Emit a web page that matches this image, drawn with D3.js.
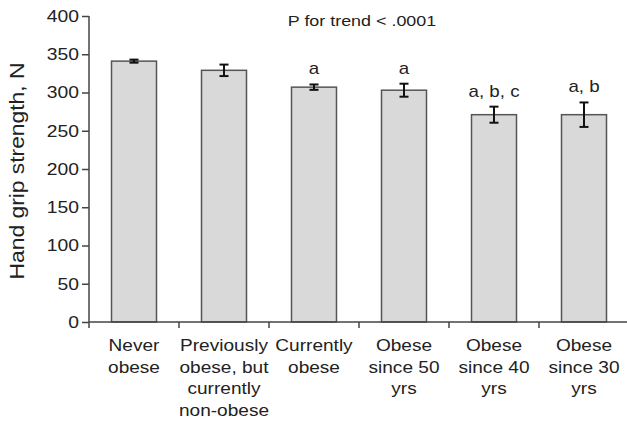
<!DOCTYPE html>
<html>
<head>
    <script src="https://d3js.org/d3.v7.min.js"></script>
    <style>
        body { margin: 0; background: #fff; }
        text { font-family: "Liberation Sans", Arial, sans-serif; }
    </style>
</head>
<body>
    <svg id="chart" width="627" height="421"></svg>
    <script>
        // data
        var groups = [
            ["Never", "obese"],
            ["Previously", "obese, but", "currently", "non-obese"],
            ["Currently", "obese"],
            ["Obese", "since 50", "yrs"],
            ["Obese", "since 40", "yrs"],
            ["Obese", "since 30", "yrs"]
        ];
        var means = [341, 329, 307, 303, 271, 271];
        var errors = [2, 7.5, 3.5, 8.5, 10.5, 16];
        var marks = ["", "", "a", "a", "a, b, c", "a, b"];
        var yTicks = [0, 50, 100, 150, 200, 250, 300, 350, 400];

        var svg = d3.select("#chart");
        var marginLeft = 89, marginTop = 16, plotW = 540, plotH = 306;
        var sx = 1.17; // the original lettering is a bit wide

        var g = svg.append("g").attr("transform", "translate(" + marginLeft + "," + marginTop + ")");

        var x = d3.scaleBand().domain(d3.range(groups.length)).range([0, plotW]).paddingInner(0.5).paddingOuter(0.25);
        var y = d3.scaleLinear().domain([0, 400]).range([plotH, 0]);
        function cx(i) { return x(i) + x.bandwidth() / 2; }

        // bars
        g.selectAll("rect.bar")
            .data(means)
            .enter()
            .append("rect")
            .attr("class", "bar")
            .attr("x", function(d, i) { return x(i); })
            .attr("y", function(d) { return y(d); })
            .attr("width", x.bandwidth())
            .attr("height", function(d) { return plotH - y(d); })
            .style("fill", "#d9d9d9")
            .style("stroke", "#555")
            .style("stroke-width", 1.5);

        // error bars
        var cap = 4.5;
        var eb = g.selectAll("g.err").data(means).enter().append("g").attr("class", "err")
            .style("stroke", "#111").style("stroke-width", 2);
        eb.append("line")
            .attr("x1", function(d, i) { return cx(i); })
            .attr("x2", function(d, i) { return cx(i); })
            .attr("y1", function(d, i) { return y(d + errors[i]); })
            .attr("y2", function(d, i) { return y(d - errors[i]); });
        eb.append("line")
            .attr("x1", function(d, i) { return cx(i) - cap; })
            .attr("x2", function(d, i) { return cx(i) + cap; })
            .attr("y1", function(d, i) { return y(d + errors[i]); })
            .attr("y2", function(d, i) { return y(d + errors[i]); });
        eb.append("line")
            .attr("x1", function(d, i) { return cx(i) - cap; })
            .attr("x2", function(d, i) { return cx(i) + cap; })
            .attr("y1", function(d, i) { return y(d - errors[i]); })
            .attr("y2", function(d, i) { return y(d - errors[i]); });

        // significance letters
        g.selectAll("text.mark")
            .data(means)
            .enter()
            .append("text")
            .attr("class", "mark")
            .attr("transform", function(d, i) {
                return "translate(" + cx(i) + "," + (y(d + errors[i]) - 10) + ") scale(" + sx + ",1)";
            })
            .attr("text-anchor", "middle")
            .style("font-size", "16px")
            .style("fill", "#222")
            .text(function(d, i) { return marks[i]; });

        // y axis
        var yAxis = g.append("g")
            .call(d3.axisLeft(y).tickValues(yTicks).tickSize(7));
        yAxis.selectAll("text")
            .attr("x", -10 / sx)
            .attr("transform", "scale(" + sx + ",1)")
            .style("font-size", "16.5px")
            .style("fill", "#222");
        yAxis.select(".domain").style("stroke", "#444").style("stroke-width", 1.5).attr("d", "M0," + plotH + "V0");
        yAxis.selectAll(".tick line").style("stroke", "#444").style("stroke-width", 1.5);

        // x axis with ticks at group boundaries
        var step = x.step();
        var xg = g.append("g").attr("transform", "translate(0," + plotH + ")");
        xg.append("line").attr("x1", 0).attr("x2", plotW).style("stroke", "#444").style("stroke-width", 1.5);
        xg.selectAll("line.tk")
            .data(d3.range(groups.length))
            .enter()
            .append("line")
            .attr("class", "tk")
            .attr("x1", function(i) { return i * step; })
            .attr("x2", function(i) { return i * step; })
            .attr("y1", 0).attr("y2", 6)
            .style("stroke", "#444").style("stroke-width", 1.5);

        var lab = xg.selectAll("text.cat")
            .data(groups)
            .enter()
            .append("text")
            .attr("class", "cat")
            .attr("transform", function(d, i) { return "translate(" + cx(i) + ",0) scale(" + sx + ",1)"; })
            .attr("text-anchor", "middle")
            .style("font-size", "16.3px")
            .style("fill", "#222");
        lab.selectAll("tspan")
            .data(function(d) { return d; })
            .enter()
            .append("tspan")
            .attr("x", 0)
            .attr("y", function(d, j) { return 29.5 + j * 21.5; })
            .text(function(d) { return d; });

        // y label
        svg.append("text")
            .attr("transform", "translate(24," + 171 + ") rotate(-90) scale(" + sx + ",1)")
            .attr("text-anchor", "middle")
            .style("font-size", "19.5px")
            .style("fill", "#222")
            .text("Hand grip strength, N");

        // trend note
        svg.append("text")
            .attr("transform", "translate(362,26) scale(" + sx + ",1)")
            .attr("text-anchor", "middle")
            .style("font-size", "15.3px")
            .style("fill", "#222")
            .text("P for trend < .0001");
    </script>
</body>
</html>
